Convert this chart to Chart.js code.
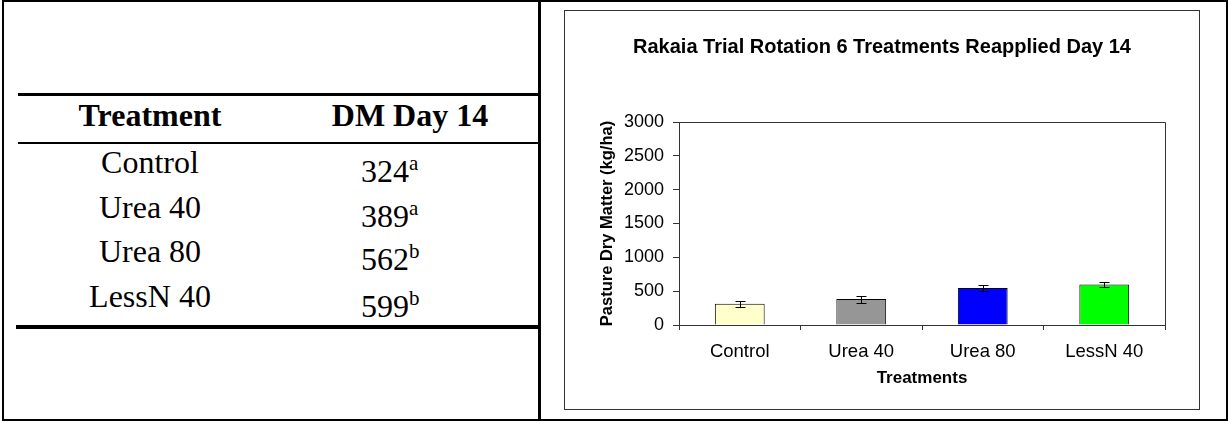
<!DOCTYPE html>
<html>
<head>
<meta charset="utf-8">
<script src="https://cdn.jsdelivr.net/npm/chart.js@4.4.0/dist/chart.umd.min.js"></script>
<style>
html,body{margin:0;padding:0;background:#fff;}
#page{position:relative;width:1228px;height:421px;overflow:hidden;background:#fff;}
.frame{position:absolute;left:2px;top:0;width:1226px;height:421px;box-sizing:border-box;border:2px solid #000;}
.vline{position:absolute;left:538px;top:0;width:3px;height:421px;background:#000;}
.hl{position:absolute;background:#000;}
.t{position:absolute;font-family:"Liberation Serif","Times New Roman",serif;font-size:32px;line-height:32px;white-space:nowrap;color:#000;}
.c1{left:50px;width:200px;text-align:center;}
.c2h{left:310px;width:200px;text-align:center;}
.c2{left:361px;text-align:left;}
.h{font-weight:bold;}
.sup{font-size:21px;position:relative;top:-12px;}
#chartbox{position:absolute;left:564px;top:10px;width:636px;height:400px;box-sizing:border-box;border:1px solid #333;}
#chartbox canvas{position:absolute;left:0;top:0;}
</style>
</head>
<body>
<div id="page">
  <div class="frame"></div>
  <div class="vline"></div>
  <div class="hl" style="left:18px;top:93px;width:522px;height:3px;"></div>
  <div class="hl" style="left:18px;top:142px;width:522px;height:2px;"></div>
  <div class="hl" style="left:16px;top:325px;width:525px;height:4px;"></div>
  <div id="table"></div>
  <div id="chartbox"><canvas id="c" width="634" height="398"></canvas></div>
</div>
<script>
// ---- data ----
const categories = ['Control', 'Urea 40', 'Urea 80', 'LessN 40'];
const tableHeaders = ['Treatment', 'DM Day 14'];
const tableValues = [324, 389, 562, 599];
const tableLetters = ['a', 'a', 'b', 'b'];
const dmMeans = [315, 383, 548, 598];
const dmErrors = [45, 52, 45, 38];
const barColors = ['#FFFFCC', '#969696', '#0000FF', '#00FF00'];
const yTickValues = [0, 500, 1000, 1500, 2000, 2500, 3000];
const chartTitle = 'Rakaia Trial Rotation 6 Treatments Reapplied Day 14';
const xTitle = 'Treatments';
const yTitle = 'Pasture Dry Matter (kg/ha)';

// ---- table (HTML text) ----
const leftBaselines = [173, 218, 262, 307];
const rightBaselines = [182, 227, 270, 317];
const tbl = document.getElementById('table');
function addText(cls, html, baseline) {
  const d = document.createElement('div');
  d.className = 't ' + cls;
  d.style.top = (baseline - 27) + 'px';
  d.innerHTML = html;
  tbl.appendChild(d);
}
addText('c1 h', tableHeaders[0], 126);
addText('c2h h', tableHeaders[1], 126);
categories.forEach((c, i) => {
  addText('c1', c, leftBaselines[i]);
  addText('c2', tableValues[i] + '<span class="sup">' + tableLetters[i] + '</span>', rightBaselines[i]);
});

// ---- chart ----
Chart.defaults.font.family = "'Liberation Sans', Arial, sans-serif";
Chart.defaults.color = '#000';

const errorBars = {
  id: 'errorBars',
  afterDatasetsDraw(chart) {
    const ctx = chart.ctx;
    const meta = chart.getDatasetMeta(0);
    const y = chart.scales.y;
    ctx.save();
    ctx.strokeStyle = '#000';
    ctx.lineWidth = 1;
    meta.data.forEach((bar, i) => {
      const x = Math.round(bar.x) + 0.5;
      const yHi = Math.round(y.getPixelForValue(dmMeans[i] + dmErrors[i])) + 0.5;
      const yLo = Math.round(y.getPixelForValue(dmMeans[i] - dmErrors[i])) + 0.5;
      ctx.beginPath();
      ctx.moveTo(x, yHi); ctx.lineTo(x, yLo);
      ctx.moveTo(x - 5, yHi); ctx.lineTo(x + 5, yHi);
      ctx.moveTo(x - 5, yLo); ctx.lineTo(x + 5, yLo);
      ctx.stroke();
    });
    ctx.restore();
  }
};
const plotFrame = {
  id: 'plotFrame',
  afterDraw(chart) {
    const a = chart.chartArea;
    const ctx = chart.ctx;
    ctx.save();
    ctx.strokeStyle = '#333';
    ctx.lineWidth = 1;
    ctx.beginPath();
    const l = Math.round(a.left) + 0.5, t = Math.round(a.top) + 0.5, r = Math.round(a.right) + 0.5;
    ctx.moveTo(l, t); ctx.lineTo(r, t); ctx.lineTo(r, Math.round(a.bottom) + 0.5);
    ctx.stroke();
    ctx.restore();
  }
};

new Chart(document.getElementById('c'), {
  type: 'bar',
  data: {
    labels: categories,
    datasets: [{
      data: dmMeans,
      backgroundColor: barColors,
      borderColor: '#000',
      borderWidth: 1,
      barPercentage: 0.41,
      categoryPercentage: 1.0,
      yAxisID: 'y'
    }]
  },
  options: {
    responsive: false,
    animation: false,
    events: [],
    layout: { padding: 0 },
    plugins: {
      legend: { display: false },
      tooltip: { enabled: false },
      title: {
        display: true,
        text: chartTitle,
        color: '#000',
        font: { size: 20, weight: 'bold', lineHeight: 1.2 },
        padding: { top: 24, bottom: 63 }
      }
    },
    scales: {
      x: {
        grid: { display: true, drawOnChartArea: false, drawTicks: true, tickLength: 5, color: '#333', offset: true },
        border: { display: true, color: '#333', width: 1 },
        ticks: { color: '#000', font: { size: 18.5 }, padding: 11, maxRotation: 0 },
        title: { display: true, text: xTitle, color: '#000', font: { size: 17, weight: 'bold', lineHeight: 1.2 }, padding: { top: 0, bottom: 20.8 } },
        afterFit(s) { s.height = 84; }
      },
      y: {
        position: 'left',
        min: 0,
        max: 3000,
        afterBuildTicks(s) { s.ticks = yTickValues.map(v => ({ value: v })); },
        grid: { display: true, drawOnChartArea: false, drawTicks: true, tickLength: 6, color: '#333' },
        border: { display: true, color: '#333', width: 1 },
        ticks: { color: '#000', font: { size: 18 }, padding: 9, callback: v => String(v) },
        title: { display: true, text: yTitle, color: '#000', font: { size: 16.5, weight: 'bold', lineHeight: 1.2 }, padding: { top: 33, bottom: 0 } },
        afterFit(s) { s.width = 114; }
      },
      yRightSpace: {
        position: 'right',
        display: true,
        min: 0,
        max: 3000,
        grid: { display: false },
        border: { display: false },
        ticks: { display: false },
        afterFit(s) { s.width = 34; }
      }
    }
  },
  plugins: [errorBars, plotFrame]
});
</script>
</body>
</html>
